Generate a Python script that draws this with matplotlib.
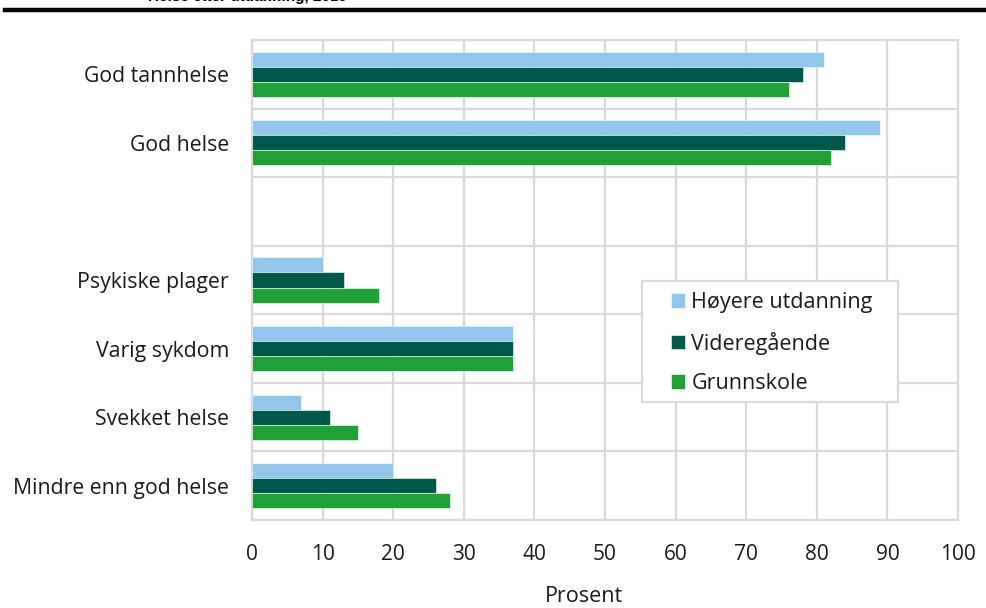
import matplotlib
matplotlib.use("Agg")
import matplotlib.pyplot as plt
from matplotlib.patches import Rectangle
import numpy as np

plt.rcParams['font.family'] = ['Open Sans', 'DejaVu Sans']

# categories top to bottom ("" = empty gap slot)
categories = ["God tannhelse", "God helse", "", "Psykiske plager",
              "Varig sykdom", "Svekket helse", "Mindre enn god helse"]
hoyere = [81, 89, np.nan, 10, 37, 7, 20]
videregaende = [78, 84, np.nan, 13, 37, 11, 26]
grunnskole = [76, 82, np.nan, 18, 37, 15, 28]
series_names = ["Høyere utdanning", "Videregående", "Grunnskole"]
colors = ["#93C6EB", "#00584A", "#21A038"]
xticks = list(range(0, 101, 10))

W, H = 987, 608
fig = plt.figure(figsize=(W / 100, H / 100), dpi=100)
ax = fig.add_axes([252 / W, (H - 520) / H, 706 / W, 480 / H])

grid_c = "#D9D9D9"
txt_c = "#1A1A1A"
centers = np.arange(len(categories)) + 0.5
bh = 0.22
for k, (vals, name, col) in enumerate(zip([hoyere, videregaende, grunnskole], series_names, colors)):
    ax.barh(centers + (k - 1) * bh, vals, height=bh, color=col, label=name,
            edgecolor="white", linewidth=0.4, zorder=3)

ax.set_xlim(0, 100)
ax.set_ylim(len(categories), 0)
ax.set_xticks(xticks)
ax.set_xticklabels([str(t) for t in xticks], fontsize=15)
ax.set_yticks(centers)
ax.set_yticklabels(categories, fontsize=15.3)
ax.set_yticks(np.arange(len(categories) + 1), minor=True)
ax.tick_params(axis='both', which='both', length=0, colors=txt_c)
ax.tick_params(axis='y', pad=16.5)
ax.tick_params(axis='x', pad=17.5)
ax.grid(True, axis='x', which='major', color=grid_c, linewidth=1.6, zorder=0)
ax.grid(True, axis='y', which='minor', color=grid_c, linewidth=1.6, zorder=0)
ax.grid(False, axis='y', which='major')
for s in ax.spines.values():
    s.set_color(grid_c)
    s.set_linewidth(1.6)

# legend box drawn separately so its padding matches
fig.add_artist(Rectangle((642 / W, 1 - 402 / H), 256 / W, 121 / H, transform=fig.transFigure,
                         facecolor="white", edgecolor=grid_c, linewidth=1.6, zorder=4))
leg = fig.legend(*ax.get_legend_handles_labels(), loc='upper left',
                 bbox_to_anchor=(671 / W, 1 - 292 / H), fontsize=15.5, frameon=False,
                 labelspacing=0.86, handlelength=0.65, handleheight=0.65,
                 handletextpad=0.3, borderpad=0, borderaxespad=0)
leg.set_zorder(5)
for t in leg.get_texts():
    t.set_color(txt_c)

fig.text(584 / W, 1 - 596 / H, "Prosent", fontsize=15.5, ha='center', va='center', color=txt_c)

# top rule and cropped title
fig.add_artist(plt.Line2D([5 / W, 1], [1 - 10 / H] * 2, color="black", linewidth=3.2,
                          transform=fig.transFigure))
fig.text(148 / W, 1 - 1 / H, "Helse etter utdanning, 2019", fontsize=11, fontweight='bold',
         family=['Liberation Sans', 'DejaVu Sans'], ha='left', va='baseline')

fig.savefig("out.png", dpi=100)
